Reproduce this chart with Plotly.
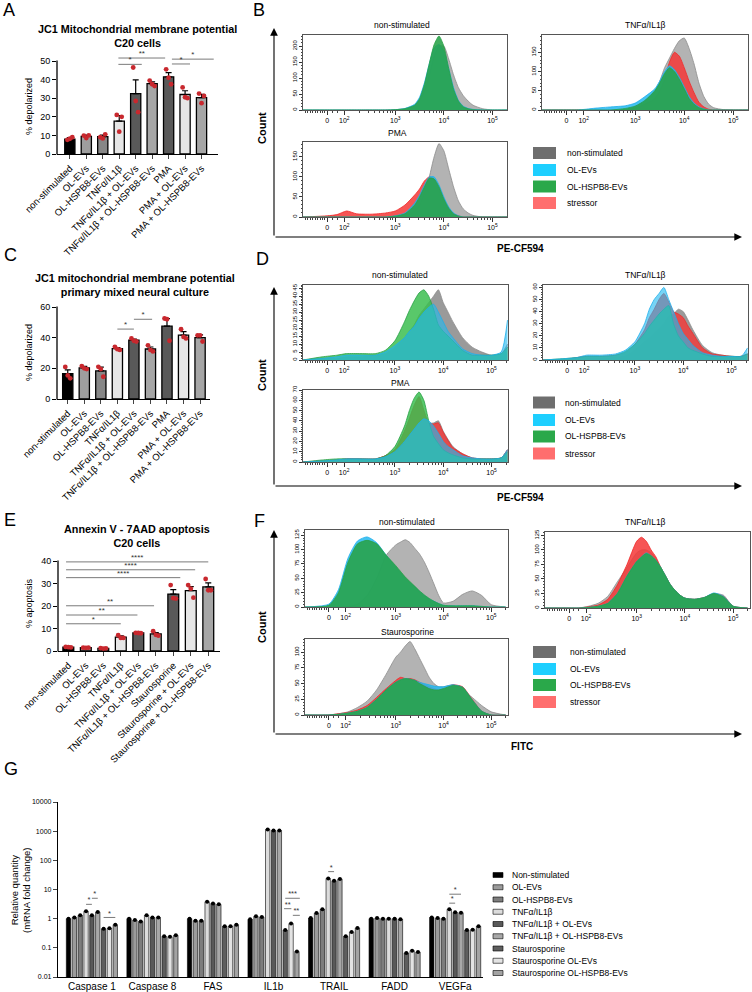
import plotly.graph_objects as go
import math

W, H = 752, 992
FONT = "Liberation Sans, Arial, sans-serif"

# ======================= DATA =======================
# ---- Panel A: JC1, C20 cells ----
A_CATS = ["non-stimulated", "OL-EVs", "OL-HSPB8-EVs", "TNFα/IL1β", "TNFα/IL1β + OL-EVs",
          "TNFα/IL1β + OL-HSPB8-EVs", "PMA", "PMA + OL-EVs", "PMA + OL-HSPB8-EVs"]
A_MEAN = [8.0, 9.5, 9.3, 17.7, 32.5, 37.8, 41.5, 32.0, 30.3]
A_SEM = [0.8, 0.7, 0.8, 3.0, 7.4, 1.0, 2.2, 2.0, 1.8]
A_PTS = [[7.6, 8.2, 9.0], [9.9, 8.6, 10.0], [9.0, 8.4, 10.6], [21.0, 12.0, 20.0],
         [46.5, 28.5, 22.5], [39.5, 37.5, 36.5], [45.5, 41.0, 37.5], [35.8, 30.5, 30.0],
         [32.5, 27.3, 31.2]]
A_SIG = [(2.95, 4.37, 48.2, "*"), (2.95, 5.79, 51.6, "**"), (6.2, 7.3, 48.4, "*"), (6.2, 8.74, 51.0, "*")]

# ---- Panel C: JC1, primary mixed neural culture ----
C_CATS = A_CATS
C_MEAN = [16.5, 20.3, 18.3, 32.8, 38.3, 32.6, 47.5, 41.7, 40.0]
C_SEM = [2.5, 1.0, 2.5, 0.7, 0.8, 1.3, 5.0, 2.3, 1.8]
C_PTS = [[20.9, 15.4, 13.5], [21.5, 20.0, 19.5], [21.0, 19.5, 14.5], [34.0, 32.5, 32.0],
         [39.5, 38.0, 37.5], [35.0, 32.0, 31.0], [52.5, 52.0, 38.0], [45.5, 40.5, 39.5],
         [41.5, 41.5, 37.5]]
C_SIG = [(3.0, 4.0, 45.6, "*"), (4.0, 5.1, 52.0, "*")]

# ---- Panel E: Annexin V - 7AAD apoptosis ----
E_CATS = ["non-stimulated", "OL-EVs", "OL-HSPB8-EVs", "TNFα/IL1β", "TNFα/IL1β + OL-EVs",
          "TNFα/IL1β + OL-HSPB8-EVs", "Staurosporine", "Staurosporine + OL-EVs",
          "Staurosporine + OL-HSPB8-EVs"]
E_MEAN = [1.7, 1.5, 1.2, 6.2, 8.0, 7.6, 25.3, 26.8, 28.5]
E_SEM = [0.2, 0.1, 0.2, 0.5, 0.2, 0.6, 2.0, 1.8, 1.8]
E_PTS = [[1.8, 1.7, 1.6], [1.5, 1.4, 1.5], [1.3, 1.1, 1.2], [7.0, 5.8, 5.8], [8.1, 8.0, 7.9],
         [8.8, 7.2, 6.8], [29.3, 23.5, 23.3], [29.3, 27.7, 23.7], [32.0, 27.0, 27.0]]
E_SIG = [(-0.13, 3.0, 12.1, "*"), (-0.13, 3.95, 16.0, "**"), (-0.13, 4.9, 20.1, "**"),
         (-0.13, 6.4, 32.6, "****"), (-0.13, 7.25, 36.1, "****"), (-0.13, 8.0, 39.6, "****")]

# ---- Panel G: qPCR ----
GENES = ["Caspase 1", "Caspase 8", "FAS", "IL1b", "TRAIL", "FADD", "VEGFa"]
G_NAMES = ["Non-stimulated", "OL-EVs", "OL-HSPB8-EVs", "TNFα/IL1β", "TNFα/IL1β + OL-EVs",
           "TNFα/IL1β + OL-HSPB8-EVs", "Staurosporine", "Staurosporine OL-EVs",
           "Staurosporine OL-HSPB8-EVs"]
G_NONSTIM = [1.0, 1.0, 1.0, 0.95, 1.05, 1.0, 1.1]
G_OL = [1.1, 0.9, 0.85, 1.2, 1.55, 1.05, 1.05]
G_OLH = [1.3, 0.8, 0.85, 1.15, 2.1, 1.0, 1.0]
G_TNF = [1.8, 1.3, 3.8, 1150, 24, 1.0, 2.1]
G_TNF_OL = [1.3, 1.1, 3.3, 1050, 20, 1.0, 1.65]
G_TNF_OLH = [1.7, 1.1, 3.1, 1050, 23, 0.95, 1.6]
G_ST = [0.45, 0.25, 0.55, 0.41, 0.25, 0.067, 0.41]
G_ST_OL = [0.47, 0.24, 0.55, 0.68, 0.35, 0.08, 0.42]
G_ST_OLH = [0.62, 0.27, 0.62, 0.075, 0.48, 0.072, 0.55]
G_SIG = [(0, 3, 4, 3.1, "*"), (0, 4, 5, 5.0, "*"), (0, 6, 8, 1.1, "*"),
         (3, 6, 8.5, 5.0, "***"), (3, 5.8, 7.05, 2.2, "**"), (3, 7.3, 8.5, 1.3, "**"),
         (4, 3, 4, 41, "*"), (6, 3, 4, 3.4, "*"), (6, 3, 5, 6.9, "*")]

# ---- Flow cytometry histograms (x in decades of fluorescence, y = count) ----
B_GRID = [1.1, 1.6, 1.8, 2.0, 2.2, 2.5, 2.8, 3.0, 3.2, 3.4, 3.5, 3.6, 3.7, 3.8, 3.9, 4.0, 4.1, 4.2, 4.3, 4.4, 4.5, 4.6, 4.8, 5.0, 5.3]
B_NS_GRAY = [0, 0, 0, 0, 0, 0, 0, 1, 4, 15, 30, 60, 110, 170, 200, 200, 160, 110, 70, 45, 28, 15, 4, 0, 0]
B_NS_BLUE = [0, 0, 0, 0, 0, 0, 0, 1, 5, 18, 40, 85, 145, 195, 205, 185, 130, 70, 30, 12, 5, 2, 0, 0, 0]
B_NS_GREEN = [0, 0, 0, 0, 0, 0, 0, 1, 4, 15, 35, 80, 145, 205, 232, 200, 130, 65, 28, 10, 4, 1, 0, 0, 0]
B_TNF_GRAY = [0, 0, 0, 0, 0, 0, 2, 10, 25, 50, 75, 110, 135, 160, 180, 187, 160, 120, 70, 35, 15, 6, 1, 0, 0]
B_TNF_RED = [0, 0, 0, 0, 0, 0, 1, 5, 15, 30, 50, 80, 125, 150, 140, 110, 75, 45, 20, 8, 2, 0, 0, 0, 0]
B_TNF_BLUE = [0, 0, 0, 2, 5, 8, 11, 18, 35, 55, 75, 100, 115, 105, 85, 60, 35, 18, 8, 3, 0, 0, 0, 0, 0]
B_TNF_GREEN = [0, 0, 0, 0, 0, 0, 4, 10, 25, 50, 70, 95, 110, 100, 80, 55, 30, 15, 6, 2, 0, 0, 0, 0, 0]
B_PMA_GRAY = [0, 0, 0, 0, 0, 0, 0, 2, 5, 15, 30, 60, 100, 150, 183, 165, 120, 75, 40, 20, 10, 4, 0, 0, 0]
B_PMA_RED = [0, 3, 6, 15, 8, 7, 10, 15, 30, 55, 70, 90, 100, 95, 70, 40, 20, 8, 3, 0, 0, 0, 0, 0, 0]
B_PMA_BLUE = [0, 0, 0, 0, 0, 0, 0, 3, 10, 35, 55, 80, 100, 100, 80, 50, 25, 10, 3, 0, 0, 0, 0, 0, 0]
B_PMA_GREEN = [0, 0, 0, 0, 0, 0, 0, 2, 8, 30, 50, 75, 97, 95, 75, 45, 22, 8, 2, 0, 0, 0, 0, 0, 0]

D_GRID = [1.1, 1.5, 1.8, 2.0, 2.3, 2.6, 2.8, 3.0, 3.2, 3.3, 3.4, 3.5, 3.6, 3.7, 3.8, 3.9, 4.0, 4.1, 4.2, 4.4, 4.6, 4.8, 5.0, 5.2, 5.33]
D_NS_GRAY = [0, 1, 1, 2, 2, 3, 4, 8, 14, 18, 22, 28, 32, 36, 40, 44, 36, 30, 24, 14, 8, 5, 3, 4, 10]
D_NS_GREEN = [0, 2, 3, 4, 4, 4, 6, 12, 24, 31, 37, 42, 44, 40, 32, 22, 18, 15, 12, 6, 3, 3, 3, 4, 8]
D_NS_BLUE = [0, 1, 2, 3, 3, 3, 5, 9, 14, 18, 21, 26, 30, 33, 35, 30, 24, 18, 14, 7, 4, 3, 3, 5, 25]
D_TNF_GRAY = [0, 0, 0, 1, 1, 2, 3, 8, 15, 18, 22, 26, 30, 36, 38, 42, 40, 33, 25, 12, 6, 4, 3, 3, 5]
D_TNF_RED = [0, 0, 2, 3, 3, 4, 6, 13, 25, 35, 42, 50, 55, 48, 40, 38, 35, 28, 22, 10, 5, 4, 3, 3, 5]
D_TNF_BLUE = [0, 1, 2, 4, 4, 5, 8, 15, 30, 42, 50, 55, 60, 50, 40, 30, 22, 17, 12, 6, 4, 3, 3, 3, 10]
D_TNF_GREEN = [0, 1, 2, 3, 3, 4, 7, 13, 22, 28, 33, 38, 42, 45, 30, 20, 15, 10, 8, 5, 3, 3, 3, 3, 5]
D_PMA_GRAY = [0, 1, 2, 3, 3, 3, 6, 12, 30, 42, 55, 64, 50, 38, 38, 40, 30, 22, 15, 8, 4, 3, 3, 4, 12]
D_PMA_RED = [0, 1, 2, 3, 3, 3, 6, 12, 30, 42, 55, 63, 50, 38, 37, 38, 29, 21, 14, 8, 4, 3, 3, 4, 12]
D_PMA_GREEN = [0, 2, 3, 3, 3, 3, 6, 15, 35, 50, 62, 68, 60, 40, 25, 18, 12, 9, 7, 4, 3, 3, 3, 4, 10]
D_PMA_BLUE = [0, 1, 2, 3, 3, 3, 5, 10, 20, 26, 32, 38, 42, 40, 35, 28, 20, 15, 12, 6, 4, 3, 3, 4, 12]

F_GRID = [1.1, 1.6, 1.8, 2.0, 2.2, 2.4, 2.6, 2.8, 3.0, 3.1, 3.2, 3.3, 3.4, 3.5, 3.6, 3.7, 3.8, 3.9, 4.0, 4.2, 4.4, 4.6, 4.8, 5.0, 5.3]
F_NS_GRAY = [0, 0, 0, 1, 5, 20, 50, 90, 108, 113, 117, 112, 102, 92, 78, 60, 40, 20, 7, 10, 22, 28, 20, 4, 0]
F_NS_BLUE = [0, 5, 30, 85, 115, 122, 112, 90, 70, 60, 50, 42, 35, 27, 20, 14, 10, 6, 3, 2, 2, 2, 1, 0, 0]
F_NS_GREEN = [0, 3, 25, 78, 110, 116, 110, 90, 72, 62, 52, 44, 36, 28, 21, 15, 10, 6, 3, 2, 2, 2, 1, 0, 0]
F_TNF_GRAY = [0, 0, 0, 3, 8, 20, 45, 70, 95, 100, 100, 95, 85, 70, 55, 40, 30, 22, 17, 15, 18, 25, 22, 3, 0]
F_TNF_RED = [0, 0, 0, 2, 5, 15, 40, 75, 115, 122, 115, 100, 88, 70, 55, 40, 30, 22, 17, 15, 18, 24, 20, 3, 0]
F_TNF_BLUE = [0, 0, 0, 1, 3, 8, 25, 55, 80, 88, 95, 90, 82, 70, 55, 40, 30, 22, 17, 15, 18, 26, 20, 3, 0]
F_TNF_GREEN = [0, 0, 0, 1, 3, 8, 25, 55, 80, 88, 94, 90, 82, 70, 55, 40, 30, 22, 17, 15, 18, 25, 19, 3, 0]
F_ST_GRAY = [0, 0, 2, 5, 12, 22, 40, 65, 92, 100, 110, 117, 105, 90, 75, 60, 50, 45, 45, 48, 40, 28, 15, 5, 0]
F_ST_RED = [0, 0, 2, 4, 8, 15, 28, 42, 55, 60, 58, 58, 56, 52, 48, 45, 42, 40, 42, 48, 45, 25, 6, 0, 0]
F_ST_BLUE = [0, 0, 1, 3, 6, 12, 25, 40, 52, 56, 58, 57, 55, 52, 50, 48, 46, 45, 45, 48, 44, 24, 6, 0, 0]
F_ST_GREEN = [0, 0, 1, 3, 6, 12, 25, 40, 52, 56, 58, 57, 55, 50, 46, 42, 40, 40, 42, 47, 44, 24, 6, 0, 0]

HIST_LEGEND = ["non-stimulated", "OL-EVs", "OL-HSPB8-EVs", "stressor"]

# ======================= STYLE =======================
BAR_COLORS = ["#000000", "#9e9e9e", "#878787", "#e6e6e6", "#595959", "#a6a6a6", "#595959", "#e6e6e6", "#a6a6a6"]
G_COLORS = ["#000000", "#9b9b9b", "#7d7d7d", "#dcdcdc", "#595959", "#a8a8a8", "#5e5e5e", "#e3e3e3", "#a3a3a3"]
H_LINE = {"gray": "rgb(140,140,140)", "red": "rgb(240,40,40)", "blue": "rgb(30,175,235)", "green": "rgb(40,160,70)"}
H_FILL = {"gray": "rgba(150,150,150,0.72)", "red": "rgba(245,55,55,0.85)", "blue": "rgba(35,185,240,0.85)", "green": "rgba(40,162,72,0.88)"}
H_FILL_D = {"gray": "rgba(120,120,120,0.75)", "red": "rgba(245,55,55,0.8)", "blue": "rgba(35,185,240,0.62)", "green": "rgba(60,190,80,0.85)"}
LEG_SWATCH = ["#6e6e6e", "#1ecfff", "#2aa84a", "#ff6e6e"]

fig = go.Figure()
_n = [0]


def new_axes(x0, y0, x1, y1, xkw, ykw):
    _n[0] += 1
    s = "" if _n[0] == 1 else str(_n[0])
    fig.update_layout(**{
        "xaxis" + s: dict(domain=[x0 / W, x1 / W], anchor="y" + s, automargin=False, **xkw),
        "yaxis" + s: dict(domain=[1 - y1 / H, 1 - y0 / H], anchor="x" + s, automargin=False, **ykw),
    })
    return "x" + s, "y" + s


def text(x, y, s, size=9, bold=False, angle=0, xanchor="center", yanchor="middle"):
    fig.add_annotation(x=x / W, y=1 - y / H, xref="paper", yref="paper",
                       text=f"<b>{s}</b>" if bold else s, showarrow=False,
                       font=dict(size=size, color="black", family=FONT), textangle=angle,
                       xanchor=xanchor, yanchor=yanchor)


def arrow(xt, yt, xs, ys):
    fig.add_annotation(x=xt / W, y=1 - yt / H, xref="paper", yref="paper",
                       ax=xs - xt, ay=ys - yt, axref="pixel", ayref="pixel", text="",
                       showarrow=True, arrowhead=2, arrowsize=1.4, arrowwidth=1.1,
                       arrowcolor="black", standoff=0, startstandoff=0)


def pline(x0, y0, x1, y1, width=1.3, color="black"):
    fig.add_shape(type="line", xref="paper", yref="paper", x0=x0 / W, x1=x1 / W,
                  y0=1 - y0 / H, y1=1 - y1 / H, line=dict(color=color, width=width))


def sig_traces(xr, yr, items, size=8):
    lx, ly, tx, ty, tt = [], [], [], [], []
    for x0, x1, y, t in items:
        lx += [x0, x1, None]
        ly += [y, y, None]
        tx.append((x0 + x1) / 2)
        ty.append(y)
        tt.append(t)
    fig.add_trace(go.Scatter(x=lx, y=ly, mode="lines", line=dict(color="#7a7a7a", width=1),
                             xaxis=xr, yaxis=yr, showlegend=False, hoverinfo="skip", cliponaxis=False))
    fig.add_trace(go.Scatter(x=tx, y=ty, mode="text", text=tt, textposition="top center",
                             textfont=dict(size=size, color="#333333", family=FONT),
                             xaxis=xr, yaxis=yr, showlegend=False, hoverinfo="skip", cliponaxis=False))


JIT = [-0.15, 0.0, 0.15]


def bar_panel(box, cats, mean, sem, pts, ytop, yext, dtick, xrange, sig):
    bx0, by0, bx1, by1 = box          # pixel box of the [0, ytop] axis
    ppu = (by1 - by0) / ytop           # pixels per unit
    top_px = by0 - yext * ppu
    xr, yr = new_axes(bx0, top_px, bx1, by1,
                      dict(range=xrange, tickvals=list(range(len(cats))), ticktext=cats, tickangle=-45,
                           tickfont=dict(size=9.5, family=FONT), showline=True, linecolor="black",
                           linewidth=1.3, ticks="outside", ticklen=4, tickwidth=1.2, showgrid=False,
                           zeroline=False),
                      dict(range=[0, ytop + yext], tickvals=list(range(0, ytop + 1, dtick)),
                           tickfont=dict(size=9, family=FONT), showline=False,
                           ticks="outside", ticklen=4, tickwidth=1.2, tickcolor="black",
                           showgrid=False, zeroline=False))
    pline(bx0, by1 + 0.6, bx0, by0 - 0.6)
    n = len(cats)
    fig.add_trace(go.Bar(x=list(range(n)), y=mean, width=0.62,
                         marker=dict(color=BAR_COLORS, line=dict(color="black", width=1.3)),
                         error_y=dict(type="data", array=sem, arrayminus=[0] * n, symmetric=False,
                                      color="black", thickness=1.2, width=3),
                         xaxis=xr, yaxis=yr, showlegend=False, hoverinfo="skip"))
    px, py = [], []
    for i, p in enumerate(pts):
        for k, v in enumerate(p):
            px.append(i + JIT[k])
            py.append(v)
    fig.add_trace(go.Scatter(x=px, y=py, mode="markers", marker=dict(color="#c8282e", size=4.8),
                             xaxis=xr, yaxis=yr, showlegend=False, hoverinfo="skip", cliponaxis=False))
    sig_traces(xr, yr, sig)


# ---------- A, C, E ----------
bar_panel((57, 61, 218, 154), A_CATS, A_MEAN, A_SEM, A_PTS, 50, 4, 10, [-0.78, 9.0], A_SIG)
text(137, 36, "JC1 Mitochondrial membrane potential<br>C20 cells", size=10.8, bold=True)
text(29, 107, "% depolarized", size=9, angle=-90)
text(1, -2, "A", size=18, xanchor="left", yanchor="top")

bar_panel((57, 307, 210, 399), C_CATS, C_MEAN, C_SEM, C_PTS, 60, 0, 20, [-0.65, 8.6], C_SIG)
text(135, 285, "JC1 mitochondrial membrane potential<br>primary mixed neural culture", size=10.8, bold=True)
text(29, 353, "% depolarized", size=9, angle=-90)
text(2, 255, "C", size=18, xanchor="left")

bar_panel((58, 561, 220, 651), E_CATS, E_MEAN, E_SEM, E_PTS, 40, 1, 10, [-0.59, 8.67], E_SIG)
text(137, 536, "Annexin V - 7AAD apoptosis<br>C20 cells", size=10.8, bold=True)
text(29, 603, "% apoptosis", size=9, angle=-90)
text(2, 520, "E", size=18, xanchor="left")

# ---------- G ----------
GSTEP = 0.0966
G_SERIES = [G_NONSTIM, G_OL, G_OLH, G_TNF, G_TNF_OL, G_TNF_OLH, G_ST, G_ST_OL, G_ST_OLH]
gx, gy = new_axes(58, 802, 483, 977,
                  dict(range=[-0.56, 6.46], tickvals=list(range(len(GENES))), ticktext=GENES,
                       tickfont=dict(size=10, family=FONT), showline=True, linecolor="black",
                       linewidth=1.3, ticks="", showgrid=False, zeroline=False),
                  dict(type="log", range=[-2, 4], tickvals=[0.01, 0.1, 1, 10, 100, 1000, 10000],
                       ticktext=["0.01", "0.1", "1", "10", "100", "1000", "10000"],
                       tickfont=dict(size=7, family=FONT), showline=True, linecolor="black",
                       linewidth=1.3, ticks="outside", ticklen=4, tickwidth=1.2, showgrid=False,
                       zeroline=False))
for j, vals in enumerate(G_SERIES):
    xs = [g + (j - 4) * GSTEP for g in range(len(GENES))]
    fig.add_trace(go.Bar(x=xs, y=vals, width=0.072,
                         marker=dict(color=G_COLORS[j], line=dict(color="black", width=0.6)),
                         xaxis=gx, yaxis=gy, showlegend=False, hoverinfo="skip"))
    fig.add_trace(go.Scatter(x=xs, y=vals, mode="markers", marker=dict(color="black", size=4),
                             xaxis=gx, yaxis=gy, showlegend=False, hoverinfo="skip", cliponaxis=False))
sig_traces(gx, gy, [(g + (j0 - 4) * GSTEP, g + (j1 - 4) * GSTEP, y, t) for g, j0, j1, y, t in G_SIG], size=7.5)
text(20, 890, "Relative quantity<br>(mRNA fold change)", size=9.5, angle=-90)
text(2, 769, "G", size=18, xanchor="left")
for j, name in enumerate(G_NAMES):
    yc = 875 + 12.25 * j
    fig.add_shape(type="rect", xref="paper", yref="paper", x0=493 / W, x1=503 / W,
                  y0=1 - (yc + 2.5) / H, y1=1 - (yc - 2.5) / H,
                  fillcolor=G_COLORS[j], line=dict(color="black", width=0.6))
    text(510, yc, name, size=8.5, xanchor="left")

# ---------- Histograms ----------
MAJ = [1.6, 1.95, 3, 4, 5]
MAJ_T = ["0", "10<sup>2</sup>", "10<sup>3</sup>", "10<sup>4</sup>", "10<sup>5</sup>"]
MINOR = [round(1.15 + 0.05 * i, 3) for i in range(9)] + [1.7, 1.8]
MINOR += [1.95 + 1.05 * math.log10(k) for k in range(2, 10)]
for d in (3, 4):
    MINOR += [d + math.log10(k) for k in range(2, 10)]
MINOR += [5 + math.log10(2)]


def hist_panel(box, grid, series, order, ymax, dtick, xmax, fills):
    xr, yr = new_axes(*box,
                      dict(range=[1.1, xmax], tickvals=MAJ, ticktext=MAJ_T, ticks="outside", ticklen=4,
                           tickwidth=1, tickcolor="#333", tickfont=dict(size=7, family=FONT),
                           showline=True, mirror=True, linecolor="#555", linewidth=1,
                           showgrid=False, zeroline=False,
                           minor=dict(tickvals=MINOR, ticks="outside", ticklen=2, tickcolor="#444")),
                      dict(range=[0, ymax], dtick=dtick, ticks="outside", ticklen=3, tickwidth=1,
                           tickcolor="#333", tickfont=dict(size=6, family=FONT), tickangle=-90,
                           showline=True, mirror=True, linecolor="#555", linewidth=1,
                           showgrid=False, zeroline=False,
                           minor=dict(dtick=dtick / 5, ticks="outside", ticklen=1.5, tickcolor="#444")))
    for key in order:
        if key not in series:
            continue
        fig.add_trace(go.Scatter(x=grid, y=series[key], mode="lines", fill="tozeroy",
                                 line=dict(color=H_LINE[key], width=0.8, shape="spline", smoothing=0.6),
                                 fillcolor=fills[key], xaxis=xr, yaxis=yr, showlegend=False,
                                 hoverinfo="skip"))


def hist_legend(x0, x1, ys, xt):
    for i, lab in enumerate(HIST_LEGEND):
        fig.add_shape(type="rect", xref="paper", yref="paper", x0=x0 / W, x1=x1 / W,
                      y0=1 - (ys[i] + 6) / H, y1=1 - (ys[i] - 6) / H,
                      fillcolor=LEG_SWATCH[i], line=dict(width=0))
        text(xt, ys[i], lab, size=8.5, xanchor="left")


ORD_B = ["gray", "red", "blue", "green"]
ORD_D = ["gray", "red", "green", "blue"]

# B
hist_panel((303, 35, 507, 110), B_GRID, {"gray": B_NS_GRAY, "blue": B_NS_BLUE, "green": B_NS_GREEN}, ORD_B, 235, 50, 5.3, H_FILL)
hist_panel((542, 35, 748, 110), B_GRID, {"gray": B_TNF_GRAY, "red": B_TNF_RED, "blue": B_TNF_BLUE, "green": B_TNF_GREEN}, ORD_B, 195, 50, 5.3, H_FILL)
hist_panel((303, 142, 507, 217), B_GRID, {"gray": B_PMA_GRAY, "red": B_PMA_RED, "blue": B_PMA_BLUE, "green": B_PMA_GREEN}, ORD_B, 187, 50, 5.3, H_FILL)
text(402, 25, "non-stimulated", size=8.5)
text(645, 25, "TNFα/IL1β", size=8.5)
text(397, 133, "PMA", size=8.5)
hist_legend(533, 556, [153, 170, 186.5, 203], 565)
arrow(274, 28, 274, 237)
arrow(742, 237, 274, 237)
text(262, 128, "Count", size=11, bold=True, angle=-90)
text(520, 249, "PE-CF594", size=10, bold=True)
text(251, -2, "B", size=18, xanchor="left", yanchor="top")

# D
hist_panel((303, 285, 508, 360), D_GRID, {"gray": D_NS_GRAY, "green": D_NS_GREEN, "blue": D_NS_BLUE}, ORD_D, 47, 5, 5.34, H_FILL_D)
hist_panel((543, 285, 748, 360), D_GRID, {"gray": D_TNF_GRAY, "red": D_TNF_RED, "green": D_TNF_GREEN, "blue": D_TNF_BLUE}, ORD_D, 62, 10, 5.34, H_FILL_D)
hist_panel((303, 390, 508, 462), D_GRID, {"gray": D_PMA_GRAY, "red": D_PMA_RED, "green": D_PMA_GREEN, "blue": D_PMA_BLUE}, ORD_D, 70, 10, 5.34, H_FILL_D)
text(400, 275, "non-stimulated", size=8.5)
text(645, 275, "TNFα/IL1β", size=8.5)
text(400, 383, "PMA", size=8.5)
hist_legend(533, 555, [402.5, 420, 436.5, 453.5], 563)
arrow(274, 287, 274, 486)
arrow(742, 486, 274, 486)
text(262, 375, "Count", size=11, bold=True, angle=-90)
text(520, 497, "PE-CF594", size=10, bold=True)
text(254, 259, "D", size=18, xanchor="left")

# F
hist_panel((305, 530, 508, 607), F_GRID, {"gray": F_NS_GRAY, "blue": F_NS_BLUE, "green": F_NS_GREEN}, ORD_B, 134, 25, 5.35, H_FILL)
hist_panel((545, 532, 750, 608), F_GRID, {"gray": F_TNF_GRAY, "red": F_TNF_RED, "blue": F_TNF_BLUE, "green": F_TNF_GREEN}, ORD_B, 131, 25, 5.35, H_FILL)
hist_panel((305, 639, 508, 715), F_GRID, {"gray": F_ST_GRAY, "red": F_ST_RED, "blue": F_ST_BLUE, "green": F_ST_GREEN}, ORD_B, 121, 25, 5.35, H_FILL)
text(407, 522, "non-stimulated", size=8.5)
text(645, 522, "TNFα/IL1β", size=8.5)
text(407, 632, "Staurosporine", size=8.5)
hist_legend(533, 556, [652, 669, 685, 702], 568)
arrow(274, 530, 274, 734)
arrow(742, 734, 274, 734)
text(262, 627, "Count", size=11, bold=True, angle=-90)
text(522, 746, "FITC", size=10, bold=True)
text(252, 521, "F", size=18, xanchor="left")

fig.update_layout(width=W, height=H, margin=dict(l=0, r=0, t=0, b=0, autoexpand=False),
                  plot_bgcolor="white", paper_bgcolor="white", barmode="overlay",
                  showlegend=False, font=dict(family=FONT, color="black"))

fig.write_html("out.html", config={"displayModeBar": False},
               post_script="document.body.style.margin='0px';")
